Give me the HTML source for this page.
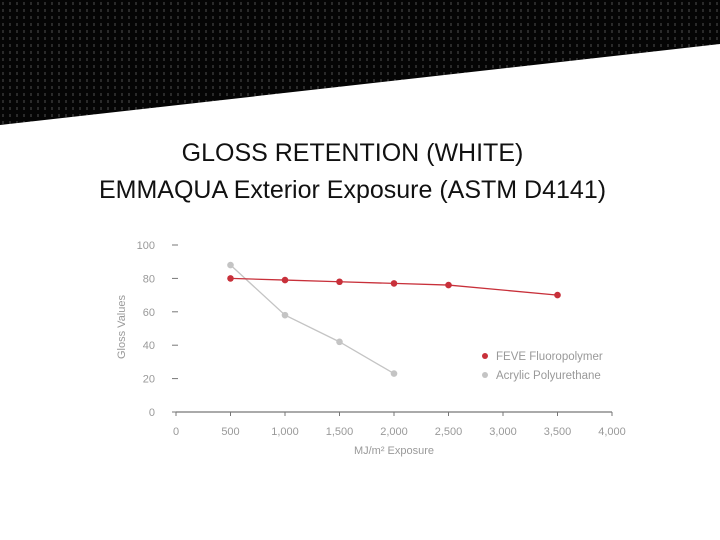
<!DOCTYPE html>
<html><head><meta charset="utf-8"><style>
html,body{margin:0;padding:0;background:#fff;}
body{width:720px;height:540px;overflow:hidden;position:relative;font-family:"Liberation Sans",sans-serif;}
.t{position:absolute;left:0;width:705px;text-align:center;color:#111;}
</style></head><body>
<svg width="720" height="540" style="position:absolute;left:0;top:0">
<defs><pattern id="dots" width="7" height="7" patternUnits="userSpaceOnUse"><rect width="7" height="7" fill="#050505"/><rect x="2" y="2" width="2" height="3" fill="#2a2a2a"/></pattern></defs>
<polygon points="0,0 720,0 720,44 0,125" fill="url(#dots)"/>
</svg>
<div class="t" style="top:139px;font-size:25px;">GLOSS RETENTION (WHITE)</div>
<div class="t" style="top:176px;font-size:25px;">EMMAQUA Exterior Exposure (ASTM D4141)</div>
<svg id="chart" width="720" height="540" style="position:absolute;left:0;top:0"></svg>
<script>
const xTicks=[0,500,1000,1500,2000,2500,3000,3500,4000];
const xTickLabels=["0","500","1,000","1,500","2,000","2,500","3,000","3,500","4,000"];
const yTicks=[0,20,40,60,80,100];
const feveX=[500,1000,1500,2000,2500,3500];
const feveY=[80,79,78,77,76,70];
const acrX=[500,1000,1500,2000];
const acrY=[88,58,42,23];
const NS="http://www.w3.org/2000/svg";
const svg=document.getElementById('chart');
const X=v=>176+v*(612-176)/4000;
const Y=v=>412-v*(412-245)/100;
function el(t,a){const e=document.createElementNS(NS,t);for(const k in a)e.setAttribute(k,a[k]);svg.appendChild(e);return e;}
let e=el('line',{x1:X(0),y1:Y(0),x2:X(4000),y2:Y(0),stroke:'#777','stroke-width':1.2});


xTicks.forEach((v,i)=>{
 let tk=el('line',{x1:X(v),y1:Y(0),x2:X(v),y2:Y(0)+4,stroke:'#777'});
 
 
 let t=el('text',{x:X(v),y:435,'text-anchor':'middle','font-size':11,fill:'#999'});
 t.textContent=xTickLabels[i];
 
 
});
yTicks.forEach(v=>{
 let tk=el('line',{x1:172,y1:Y(v),x2:178,y2:Y(v),stroke:'#777'});
 
 
 let t=el('text',{x:155,y:Y(v)+4,'text-anchor':'end','font-size':11,fill:'#999'});
 t.textContent=v;
 
 
});
let yt=el('text',{x:0,y:0,transform:'translate(125,327) rotate(-90)','text-anchor':'middle','font-size':11,fill:'#999'});
yt.textContent='Gloss Values';


let xt=el('text',{x:394,y:454,'text-anchor':'middle','font-size':11,fill:'#999'});
xt.textContent='MJ/m² Exposure';


function series(xs,ys,color,name){
 let p=el('polyline',{points:xs.map((x,i)=>X(x)+','+Y(ys[i])).join(' '),fill:'none',stroke:color,'stroke-width':1.3});
 
 
 xs.forEach((x,i)=>{
  let c=el('circle',{cx:X(x),cy:Y(ys[i]),r:3.3,fill:color});
  
  
 });
}
series(acrX,acrY,'#c4c4c4','acrylic');
series(feveX,feveY,'#c8303a','feve');
[['#c8303a','FEVE Fluoropolymer',356],['#c4c4c4','Acrylic Polyurethane',375]].forEach(l=>{
 let c=el('circle',{cx:485,cy:l[2],r:3,fill:l[0]});
 
 
 let t=el('text',{x:496,y:l[2]+4,'font-size':11.5,fill:'#999'});
 t.textContent=l[1];
 
 
});
</script>
</body></html>
